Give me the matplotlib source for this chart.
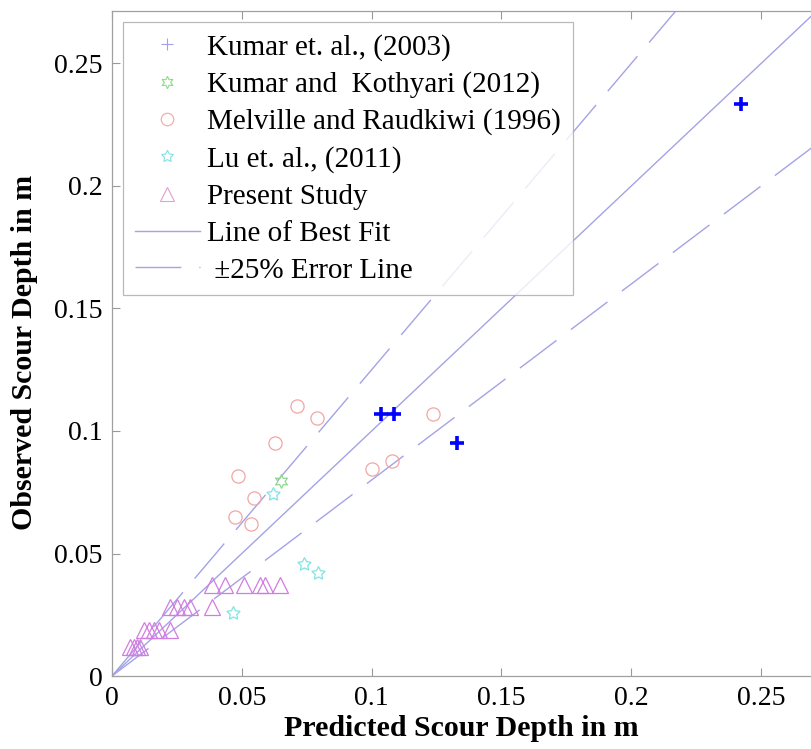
import matplotlib
matplotlib.use("Agg")
import matplotlib.pyplot as plt
from matplotlib.lines import Line2D
import numpy as np

plt.rcParams['font.family'] = ['Liberation Serif', 'DejaVu Serif']

# ---------------- data ----------------
kumar2003_pred = [0.2424, 0.1035, 0.1085, 0.1329]
kumar2003_obs = [0.2335, 0.1068, 0.1068, 0.0950]

kothyari_pred = [0.0652]
kothyari_obs = [0.0797]

melville_pred = [0.0714, 0.0791, 0.0626, 0.0487, 0.0547, 0.0475, 0.0535, 0.1003, 0.1078, 0.1235]
melville_obs = [0.1103, 0.1054, 0.0950, 0.0816, 0.0725, 0.0650, 0.0620, 0.0845, 0.0879, 0.1069]

lu_pred = [0.0622, 0.0740, 0.0795, 0.0465]
lu_obs = [0.0742, 0.0457, 0.0419, 0.0256]

present_pred = [0.0385, 0.0437, 0.0507, 0.0571, 0.0590, 0.0648,
                0.0225, 0.0250, 0.0276, 0.0302, 0.0385,
                0.0122, 0.0141, 0.0161, 0.0180, 0.0225,
                0.0071, 0.0083, 0.0096, 0.0109]
present_obs = [0.0371, 0.0371, 0.0371, 0.0371, 0.0371, 0.0371,
               0.0283, 0.0283, 0.0283, 0.0283, 0.0283,
               0.0188, 0.0188, 0.0188, 0.0188, 0.0188,
               0.0117, 0.0117, 0.0117, 0.0117]

fit_x = [0.0, 0.30]
best_fit_slope = 1.0
upper_slope = 1.25
lower_slope = 0.8

tick_vals = [0, 0.05, 0.1, 0.15, 0.2, 0.25]
tick_labels = ['0', '0.05', '0.1', '0.15', '0.2', '0.25']

legend_labels = ['Kumar et. al., (2003)', 'Kumar and  Kothyari (2012)',
                 'Melville and Raudkiwi (1996)', 'Lu et. al., (2011)',
                 'Present Study', 'Line of Best Fit', ' \u00b125% Error Line']

# ---------------- styling ----------------
W, H = 811, 749
fig = plt.figure(figsize=(W / 100, H / 100), dpi=100)
x0, y0, xr, yt = 112, 676, 813, 11
ax = fig.add_axes([x0 / W, (H - y0) / H, (xr - x0) / W, (y0 - yt) / H])

line_col = '#a3a3e6'
c_kumar_leg = '#a0a0f0'
c_koth = '#8fd88f'
c_mel = '#f0a6a6'
c_lu = '#7fe3e3'
c_pres = '#d07ce0'

fx = np.array(fit_x)
ax.plot(fx, best_fit_slope * fx, color=line_col, lw=1.0, zorder=1)
ax.plot(fx, upper_slope * fx, color=line_col, lw=1.0, dashes=(33, 13), zorder=1)
ax.plot(fx, lower_slope * fx, color=line_col, lw=1.0, dashes=(33, 13), zorder=1)

ax.plot(present_pred, present_obs, linestyle='none', marker='^', ms=11,
        mfc='none', mec=c_pres, mew=0.9, zorder=3)
ax.plot(lu_pred, lu_obs, linestyle='none', marker=(5, 1, 0), ms=10,
        mfc='none', mec=c_lu, mew=0.9, zorder=3)
ax.plot(melville_pred, melville_obs, linestyle='none', marker='o', ms=9.5,
        mfc='none', mec=c_mel, mew=0.9, zorder=3)
ax.plot(kothyari_pred, kothyari_obs, linestyle='none', marker=(6, 1, 0), ms=10,
        mfc='none', mec=c_koth, mew=0.9, zorder=3)
ax.plot(kumar2003_pred, kumar2003_obs, linestyle='none', marker='+', ms=10,
        mec='#0000ff', mew=2.6, zorder=4)

ax.set_xlim(0, 0.27)
ax.set_ylim(0, (y0 - yt) / 2450)
ax.set_xticks(tick_vals)
ax.set_xticklabels(tick_labels)
ax.set_yticks(tick_vals)
ax.set_yticklabels(tick_labels)
ax.tick_params(direction='in', length=6, width=0.8, color='#9a9a9a',
               labelsize=20, top=True, right=False, pad=7)

for s in ax.spines.values():
    s.set_color('#a0a0a0')
    s.set_linewidth(0.9)
ax.spines['right'].set_visible(False)

ax.set_xlabel('Predicted Scour Depth in m', fontsize=21.5, fontweight='bold')
ax.set_ylabel('Observed Scour Depth in m', fontsize=21.5, fontweight='bold')
ax.xaxis.label.set_va('center')
ax.yaxis.label.set_va('center')
ax.xaxis.set_label_coords((461 - x0) / (xr - x0), -(729 - y0) / (y0 - yt))
ax.yaxis.set_label_coords(-(x0 - 25) / (xr - x0), (y0 - 352) / (y0 - yt))

handles = [
    Line2D([], [], linestyle='none', marker='+', ms=9, mec=c_kumar_leg, mew=0.8),
    Line2D([], [], linestyle='none', marker=(6, 1, 0), ms=9, mfc='none', mec=c_koth, mew=0.8),
    Line2D([], [], linestyle='none', marker='o', ms=9, mfc='none', mec=c_mel, mew=0.8),
    Line2D([], [], linestyle='none', marker=(5, 1, 0), ms=9, mfc='none', mec=c_lu, mew=0.8),
    Line2D([], [], linestyle='none', marker='^', ms=10, mfc='none', mec='#e0a0d0', mew=0.8),
    Line2D([], [], color=line_col, lw=1.0),
    Line2D([], [], color=line_col, lw=1.0, dashes=(33, 13)),
]
leg = ax.legend(handles, legend_labels, loc='upper left',
                bbox_to_anchor=(123 / W, 1 - 22 / H), bbox_transform=fig.transFigure,
                fontsize=21, frameon=True, fancybox=False, borderaxespad=0,
                handlelength=2.25, handletextpad=0.24, borderpad=0.4,
                labelspacing=0.36)
leg.get_frame().set_edgecolor('#a8a8a8')
leg.get_frame().set_linewidth(0.9)

fig.savefig('out.png', dpi=100)
